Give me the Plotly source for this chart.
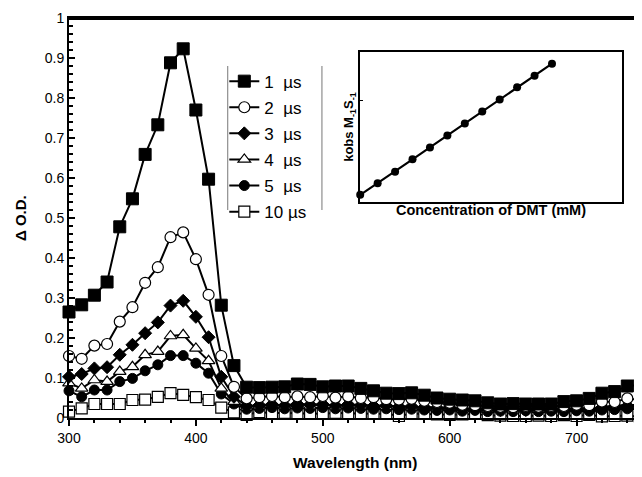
import plotly.graph_objects as go

wavelength = list(range(300, 751, 10))

od_1us = [0.265, 0.283, 0.307, 0.340, 0.478, 0.548, 0.659, 0.733, 0.888, 0.923,
          0.770, 0.597, 0.282, 0.131, 0.077, 0.076, 0.077, 0.078, 0.085, 0.084,
          0.078, 0.080, 0.080, 0.074, 0.068, 0.062, 0.061, 0.063, 0.057, 0.050,
          0.047, 0.045, 0.043, 0.038, 0.035, 0.036, 0.035, 0.035, 0.035, 0.041,
          0.043, 0.049, 0.062, 0.066, 0.080, 0.082]
od_2us = [0.155, 0.148, 0.181, 0.185, 0.241, 0.277, 0.338, 0.377, 0.452, 0.464,
          0.397, 0.308, 0.155, 0.078, 0.049, 0.052, 0.055, 0.052, 0.054, 0.052,
          0.055, 0.051, 0.054, 0.050, 0.052, 0.047, 0.046, 0.048, 0.043, 0.040,
          0.038, 0.033, 0.032, 0.030, 0.028, 0.027, 0.030, 0.028, 0.030, 0.030,
          0.033, 0.032, 0.041, 0.040, 0.049, 0.045]
od_3us = [0.103, 0.110, 0.124, 0.127, 0.158, 0.183, 0.212, 0.239, 0.281, 0.293,
          0.253, 0.202, 0.103, 0.053, 0.030, 0.032, 0.034, 0.031, 0.035, 0.033,
          0.034, 0.031, 0.034, 0.032, 0.030, 0.031, 0.028, 0.029, 0.027, 0.025,
          0.026, 0.022, 0.024, 0.021, 0.020, 0.022, 0.020, 0.021, 0.022, 0.020,
          0.023, 0.022, 0.026, 0.028, 0.030, 0.029]
od_4us = [0.087, 0.074, 0.095, 0.091, 0.116, 0.128, 0.158, 0.166, 0.205, 0.208,
          0.174, 0.143, 0.074, 0.041, 0.027, 0.030, 0.035, 0.030, 0.036, 0.030,
          0.037, 0.029, 0.035, 0.030, 0.033, 0.028, 0.030, 0.027, 0.028, 0.025,
          0.027, 0.022, 0.026, 0.021, 0.025, 0.020, 0.024, 0.021, 0.025, 0.022,
          0.026, 0.023, 0.028, 0.030, 0.033, 0.032]
od_5us = [0.068, 0.053, 0.070, 0.070, 0.091, 0.099, 0.118, 0.133, 0.156, 0.156,
          0.137, 0.112, 0.060, 0.035, 0.022, 0.024, 0.026, 0.023, 0.025, 0.024,
          0.026, 0.023, 0.025, 0.024, 0.022, 0.023, 0.021, 0.022, 0.020, 0.019,
          0.020, 0.017, 0.019, 0.016, 0.017, 0.016, 0.018, 0.016, 0.017, 0.016,
          0.018, 0.017, 0.020, 0.021, 0.023, 0.022]
od_10us = [0.016, 0.024, 0.035, 0.035, 0.035, 0.045, 0.046, 0.053, 0.062, 0.058,
           0.052, 0.045, 0.026, 0.014, 0.008, 0.015, 0.012, 0.013, 0.011, 0.012,
           0.010, 0.013, 0.011, 0.012, 0.010, 0.011, 0.005, 0.011, 0.010, 0.009,
           0.008, 0.009, 0.010, 0.007, 0.006, 0.005, 0.005, 0.006, 0.005, 0.007,
           0.005, 0.008, 0.004, 0.005, 0.006, 0.003]

series_names = ["1  µs", "2  µs", "3  µs", "4  µs", "5  µs", "10 µs"]

inset_conc = [0, 1, 2, 3, 4, 5, 6, 7, 8, 9, 10, 11]
inset_kobs = [0.0, 0.97, 1.94, 2.97, 3.97, 4.97, 5.97, 6.97, 7.97, 9.0, 9.97, 10.97]

styles = [
    dict(symbol="square", size=12, color="black", line=dict(color="black", width=1)),
    dict(symbol="circle", size=11, color="white", line=dict(color="black", width=1.2)),
    dict(symbol="diamond", size=10, color="black", line=dict(color="black", width=1)),
    dict(symbol="triangle-up", size=11, color="white", line=dict(color="black", width=1.2)),
    dict(symbol="circle", size=10, color="black", line=dict(color="black", width=1)),
    dict(symbol="square", size=11, color="white", line=dict(color="black", width=1.2)),
]

all_series = [od_1us, od_2us, od_3us, od_4us, od_5us, od_10us]

fig = go.Figure()
# draw in reverse so 1 µs sits on top
for i in reversed(range(len(all_series))):
    fig.add_trace(go.Scatter(
        x=wavelength, y=all_series[i], name=series_names[i],
        mode="lines+markers", line=dict(color="black", width=2),
        marker=styles[i], legendgroup=f"g{i}", legendrank=i + 1,
        cliponaxis=False,
    ))

fig.add_trace(go.Scatter(
    x=inset_conc, y=inset_kobs, mode="lines+markers",
    line=dict(color="black", width=2.2),
    marker=dict(symbol="circle", size=8, color="black"),
    xaxis="x2", yaxis="y2", showlegend=False, cliponaxis=False,
))

font = "Liberation Sans, Arial, sans-serif"

# the page body adds an 8px offset, so the figure is 8px smaller on each side
fig.update_layout(
    width=634, height=469,
    margin=dict(l=61, r=2, t=10, b=59),
    paper_bgcolor="white", plot_bgcolor="white",
    font=dict(family=font, color="black", size=14),
    showlegend=True,
    legend=dict(
        x=0.272, y=0.886, xanchor="left", yanchor="top",
        font=dict(size=17, family=font), bgcolor="rgba(0,0,0,0)",
        borderwidth=0, tracegroupgap=1, itemwidth=30,
    ),
    xaxis=dict(
        range=[300, 750], tickvals=[300, 400, 500, 600, 700],
        ticks="outside", ticklen=6, tickwidth=1.5, tickcolor="black",
        minor=dict(dtick=20, tick0=300, ticks="outside", ticklen=3, tickcolor="black"),
        showline=True, linecolor="black", linewidth=2, mirror=True,
        showgrid=False, zeroline=False, automargin=False,
        tickfont=dict(size=14),
    ),
    yaxis=dict(
        range=[0, 1], tickvals=[0, 0.1, 0.2, 0.3, 0.4, 0.5, 0.6, 0.7, 0.8, 0.9, 1],
        ticktext=["0", "0.1", "0.2", "0.3", "0.4", "0.5", "0.6", "0.7", "0.8", "0.9", "1"],
        ticks="inside", ticklen=6, tickwidth=1.5, tickcolor="black",
        minor=dict(dtick=0.02, tick0=0, ticks="inside", ticklen=4, tickcolor="black"),
        showline=True, linecolor="black", linewidth=2, mirror=True,
        showgrid=False, zeroline=False, automargin=False,
        tickfont=dict(size=14),
    ),
    xaxis2=dict(
        domain=[0.510, 0.968], anchor="y2", range=[0, 15],
        showticklabels=False, ticks="", showgrid=False, zeroline=False,
        showline=True, linecolor="black", linewidth=1.5, mirror=True, automargin=False,
        title=dict(text="<b>Concentration of DMT (mM)</b>", font=dict(size=14.5), standoff=2),
    ),
    yaxis2=dict(
        domain=[0.54, 0.915], anchor="x2", range=[-0.6, 11.95],
        tickvals=[7.9], showticklabels=False, ticks="inside", ticklen=3, tickcolor="black",
        showgrid=False, zeroline=False, automargin=False,
        showline=True, linecolor="black", linewidth=1.5, mirror=True,
        title=dict(text="<b>kobs M<sub>-1</sub>S<sub>-1</sub></b>", font=dict(size=13), standoff=2),
    ),
    annotations=[
        dict(text="<b>Wavelength (nm)</b>", xref="paper", yref="paper",
             x=0.5, y=0, yshift=-44, xanchor="center", yanchor="middle",
             showarrow=False, font=dict(size=15.5)),
        dict(text="<b>Δ O.D.</b>", xref="paper", yref="paper",
             x=0, y=0.5, xshift=-49, xanchor="center", yanchor="middle",
             textangle=-90, showarrow=False, font=dict(size=15)),
    ],
    shapes=[
        dict(type="line", xref="paper", yref="paper", x0=0, x1=1, y0=0.998, y1=0.998,
             line=dict(color="black", width=2.5), layer="above"),
        dict(type="line", xref="paper", yref="paper", x0=0.998, x1=0.998, y0=0, y1=1,
             line=dict(color="black", width=2.5), layer="above"),
        dict(type="line", xref="paper", yref="paper", x0=0.278, x1=0.278, y0=0.52, y1=0.88,
             line=dict(color="#777", width=1)),
        dict(type="line", xref="paper", yref="paper", x0=0.443, x1=0.443, y0=0.52, y1=0.88,
             line=dict(color="#777", width=1)),
    ],
)

fig.write_html("out.html")
